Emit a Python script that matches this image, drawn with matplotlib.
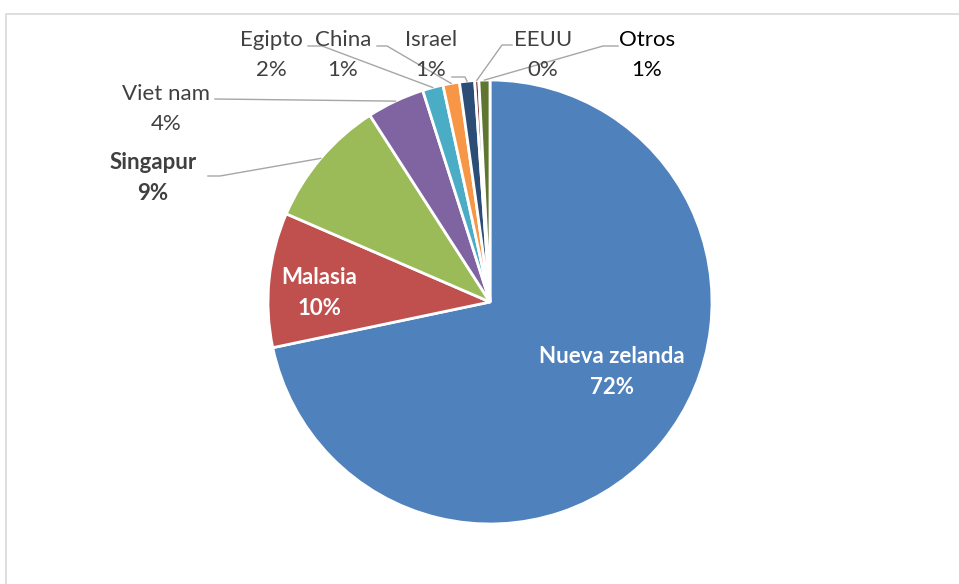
import numpy as np
import matplotlib.pyplot as plt
from matplotlib.patches import Rectangle

paises = ['Nueva zelanda', 'Malasia', 'Singapur', 'Viet nam', 'Egipto',
          'China', 'Israel', 'EEUU', 'Otros']
valores = [71.7, 9.8, 9.4, 4.2, 1.5, 1.2, 1.1, 0.3, 0.8]
colores = ['#4f81bd', '#c0504d', '#9bbb59', '#8064a2', '#4bacc6',
           '#f79646', '#2c4d75', '#772c2a', '#5f7530']

H = 584
# posiciones de etiquetas (pixeles de la imagen)
pos_etq = [(612, 372), (319, 293), (153, 178), (166, 109), (271, 55),
           (343, 55), (431, 55), (543, 55), (647, 55)]
# inicio de la linea guia (None = etiqueta interior)
guia = [None, None, [(208, 176), (220, 176)], [(215, 99)],
        [(308, 46), (322, 46)], [(377, 46), (387, 46)],
        [(452, 77), (465, 77)], [(512, 45), (502, 45)], [(618, 46), (603, 46)]]
estilo = ['in', 'in', 'bold', 'normal', 'normal', 'normal', 'normal',
          'normal', 'black']


def main():
    fig = plt.figure(figsize=(9.59, 5.84), dpi=100)
    ax = fig.add_axes([0, 0, 1, 1])
    ax.set_xlim(0, 959)
    ax.set_ylim(0, H)
    ax.set_aspect('equal')
    ax.axis('off')

    ax.add_patch(Rectangle((6, -10), 1000, H - 14 + 10, fill=False,
                           edgecolor='#d9d9d9', linewidth=1.2))

    total = sum(valores)
    cx, cy, r = 490, H - 302, 222
    wedges, _ = ax.pie(valores, colors=colores, startangle=90,
                       counterclock=False, center=(cx, cy), radius=r,
                       wedgeprops=dict(edgecolor='white', linewidth=2))
    ax.set_xlim(0, 959)
    ax.set_ylim(0, H)

    fs = 16
    ls = 1.6
    for w, nombre, v, (px, py), g, est in zip(wedges, paises, valores,
                                              pos_etq, guia, estilo):
        txt = '{}\n{:.0f}%'.format(nombre, round(v / total * 100))
        if est == 'in':
            ax.text(px, H - py, txt, ha='center', va='center', color='white',
                    fontsize=fs, fontweight='bold', family='Lato',
                    linespacing=ls)
            continue
        color = '#000000' if est == 'black' else '#404040'
        peso = 'bold' if est == 'bold' else 'normal'
        ax.text(px, H - py, txt, ha='center', va='center', color=color,
                fontsize=fs, fontweight=peso, family='Lato', linespacing=ls)
        ang = np.deg2rad((w.theta1 + w.theta2) / 2)
        ex, ey = cx + r * np.cos(ang), cy + r * np.sin(ang)
        xs = [p[0] for p in g] + [ex]
        ys = [H - p[1] for p in g] + [ey]
        ax.plot(xs, ys, color='#a6a6a6', linewidth=1)

    fig.savefig('out.png', dpi=100)


if __name__ == '__main__':
    main()
